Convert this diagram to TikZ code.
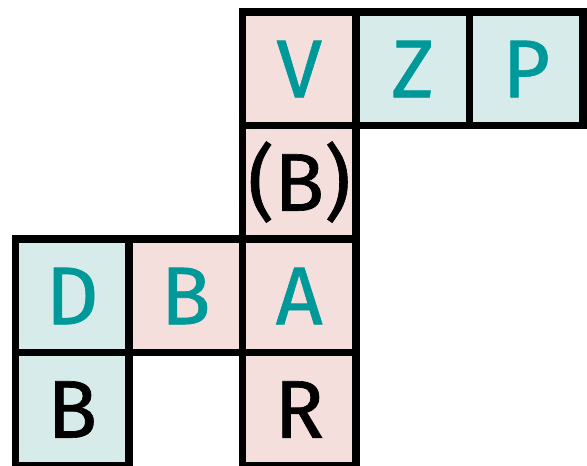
\documentclass[tikz,border=0pt]{standalone}
\usepackage{fontspec}
\newfontfamily\lblfont{Fira Sans}[FakeBold=0.8]
\definecolor{pinkbg}{HTML}{F4DFDD}
\definecolor{tealbg}{HTML}{D7ECEA}
\definecolor{tealtx}{HTML}{00999A}
\begin{document}
\begin{tikzpicture}[x=1pt,y=-1pt,
  cell/.style={draw=black, line width=7.7pt, minimum size=113.5pt, inner sep=0pt,
    font=\lblfont\fontsize{82}{82}\selectfont, text height=57pt, text depth=0pt},
  pk/.style={cell, fill=pinkbg},
  tl/.style={cell, fill=tealbg},
  tt/.style={text=tealtx},
  bt/.style={text=black}]
\useasboundingbox (0,0) rectangle (587,466);
\node[pk,tt] (v) at (299.25,68.75) {V};
\node[tl,tt] (z) at (412.75,68.75) {Z};
\node[tl,tt] (p) at (526.25,68.75) {P};
\node[pk,bt] (bb) at (299.25,182.25) {(B)};
\node[tl,tt] (d) at (72.25,295.75) {D};
\node[pk,tt] (b1) at (185.75,295.75) {B};
\node[pk,tt] (a) at (299.25,295.75) {A};
\node[tl,bt] (b2) at (72.25,409.25) {B};
\node[pk,bt] (r) at (299.25,409.25) {R};
\end{tikzpicture}
\end{document}
